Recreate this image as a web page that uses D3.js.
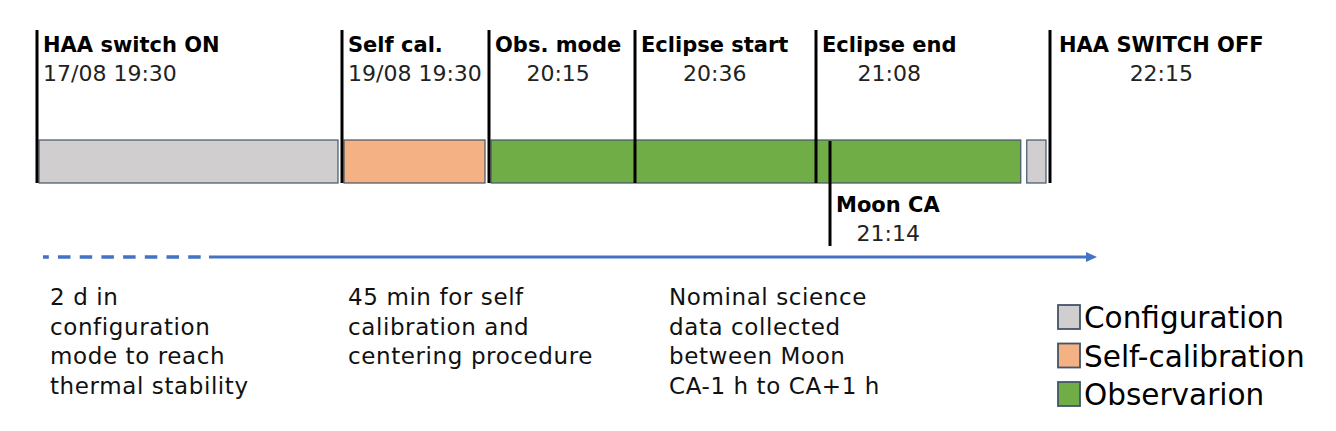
<!DOCTYPE html>
<html>
<head>
<meta charset="utf-8">
<script src="https://cdn.jsdelivr.net/npm/d3@7"></script>
<style>
  html, body { margin: 0; padding: 0; background: #fff; }
  svg { display: block; font-family: "DejaVu Sans", sans-serif; }
</style>
</head>
<body>
<div id="chart"></div>
<script>
// events on the timeline (label, time, time text)
const eventNames = ["HAA switch ON", "Self cal.", "Obs. mode", "Eclipse start", "Eclipse end", "Moon CA", "HAA SWITCH OFF"];
const eventTimes = ["17/08 19:30", "19/08 19:30", "19/08 20:15", "19/08 20:36", "19/08 21:08", "19/08 21:14", "19/08 22:15"];
const eventLabels = ["17/08 19:30", "19/08 19:30", "20:15", "20:36", "21:08", "21:14", "22:15"];

// phases drawn as bars
const phaseKinds = ["Configuration", "Self-calibration", "Observarion", "Configuration"];
const phaseStarts = ["17/08 19:30", "19/08 19:30", "19/08 20:15", "19/08 22:08"];
const phaseEnds = ["19/08 19:30", "19/08 20:15", "19/08 22:08", "19/08 22:15"];

// legend
const legendLabels = ["Configuration", "Self-calibration", "Observarion"];

// notes under the arrow
const noteLines = [
    ["2 d in", "configuration", "mode to reach", "thermal stability"],
    ["45 min for self", "calibration and", "centering procedure"],
    ["Nominal science", "data collected", "between Moon", "CA-1 h to CA+1 h"]
];

const width = 1336;
const height = 431;
const parse = d3.timeParse("%d/%m %H:%M");

//schematic (non linear) time axis: each event gets its own stop
const x = d3.scaleTime()
    .domain(eventTimes.map(parse))
    .range([37, 342, 489, 635, 816, 830, 1050]);

const color = d3.scaleOrdinal(legendLabels, ["#d0cece", "#f4b183", "#70ad47"]);

const barTop = 140;
const barBottom = 183;

const svg = d3.select("#chart").append("svg")
    .attr("width", width)
    .attr("height", height)
    .attr("viewBox", [0, 0, width, height]);

//phase bars
svg.append("g")
    .selectAll("rect")
    .data(phaseKinds.map((k, i) => ({ kind: k, start: parse(phaseStarts[i]), end: parse(phaseEnds[i]) })))
    .join("rect")
    .attr("x", d => x(d.start) + 2)
    .attr("y", barTop)
    .attr("width", d => x(d.end) - x(d.start) - 6)
    .attr("height", barBottom - barTop)
    .attr("fill", d => color(d.kind))
    .attr("stroke", "#44546a")
    .attr("stroke-width", 1.2);

const events = eventNames.map((name, i) => ({
    name,
    time: parse(eventTimes[i]),
    label: eventLabels[i],
    below: name === "Moon CA"
}));

//event markers
const ev = svg.append("g")
    .selectAll("g")
    .data(events)
    .join("g")
    .attr("transform", d => `translate(${x(d.time)},0)`);

ev.append("line")
    .attr("y1", d => d.below ? barTop + 1 : 30)
    .attr("y2", d => d.below ? 246 : barBottom)
    .attr("stroke", "#000")
    .attr("stroke-width", 3);

ev.each(function (d) {
    const g = d3.select(this);
    const ty = d.below ? 212 : 52;
    const title = g.append("text")
        .attr("x", d.name === "HAA SWITCH OFF" ? 9 : 6)
        .attr("y", ty)
        .attr("font-size", 21)
        .attr("font-weight", "bold")
        .attr("fill", "#000")
        .text(d.name);
    const b = title.node().getBBox();
    //dated labels are left aligned, plain times centred under the title
    const dated = d.label.includes("/");
    g.append("text")
        .attr("x", dated ? b.x : b.x + b.width / 2)
        .attr("y", ty + 29)
        .attr("text-anchor", dated ? "start" : "middle")
        .attr("font-size", 22)
        .attr("fill", "#222")
        .text(d.label);
});

//time arrow: dashed before the self calibration, solid after
const arrowY = 257;
const arrowStart = 43;
const solidStart = 209;
const arrowTip = x(parse(eventTimes[6])) + 47;

svg.append("line")
    .attr("x1", arrowStart).attr("x2", solidStart - 6)
    .attr("y1", arrowY).attr("y2", arrowY)
    .attr("stroke", "#4472c4")
    .attr("stroke-width", 3.5)
    .attr("stroke-dasharray", "12.5 9.2")
    .attr("stroke-dashoffset", 6.7);

svg.append("line")
    .attr("x1", solidStart).attr("x2", arrowTip - 8)
    .attr("y1", arrowY).attr("y2", arrowY)
    .attr("stroke", "#4472c4")
    .attr("stroke-width", 3);

svg.append("path")
    .attr("d", `M${arrowTip},${arrowY}L${arrowTip - 11},${arrowY - 5}L${arrowTip - 11},${arrowY + 5}Z`)
    .attr("fill", "#4472c4");

//notes
const noteX = [x(parse(eventTimes[0])) + 13, x(parse(eventTimes[1])) + 6, x(parse(eventTimes[3])) + 34];
svg.append("g")
    .selectAll("text")
    .data(noteLines)
    .join("text")
    .attr("font-size", 23)
    .attr("letter-spacing", 0.6)
    .attr("fill", "#111")
    .each(function (lines, i) {
        d3.select(this).selectAll("tspan")
            .data(lines)
            .join("tspan")
            .attr("x", noteX[i])
            .attr("y", (l, j) => 305 + j * 29.7)
            .text(l => l);
    });

//legend
const legend = svg.append("g")
    .selectAll("g")
    .data(legendLabels)
    .join("g")
    .attr("transform", (d, i) => `translate(1058,${305 + i * 38.5})`);

legend.append("rect")
    .attr("width", 22)
    .attr("height", 24)
    .attr("fill", d => color(d))
    .attr("stroke", "#44546a")
    .attr("stroke-width", 1.8);

legend.append("text")
    .attr("x", 26)
    .attr("y", 23)
    .attr("font-size", 29.5)
    .attr("fill", "#000")
    .text(d => d);
</script>
</body>
</html>
